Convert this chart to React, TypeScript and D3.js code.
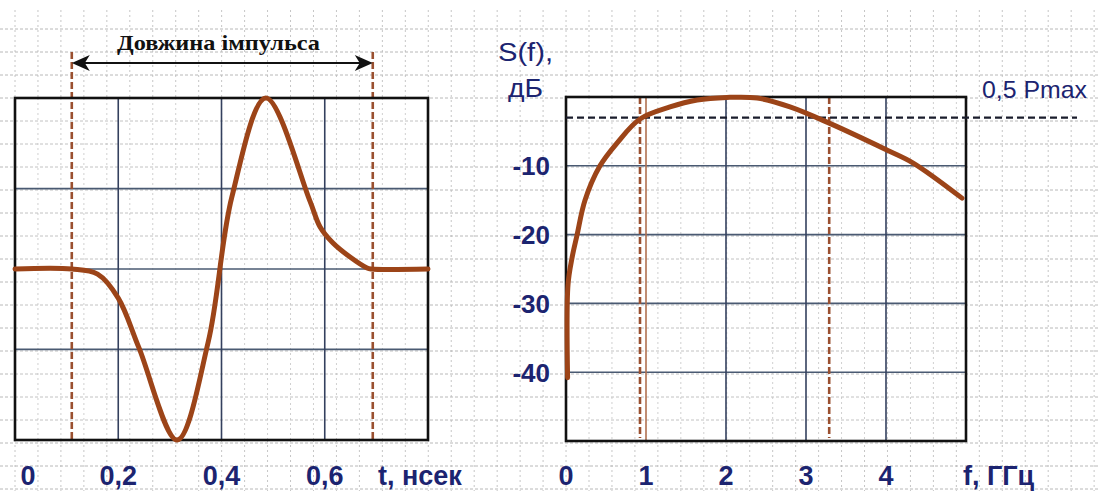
import React from "react";
import * as d3 from "d3";

// Impulse waveform: time (ns) vs normalised amplitude
const pulseT = [0, 0.11, 0.16, 0.2, 0.24, 0.314, 0.374, 0.42, 0.486, 0.571, 0.591, 0.616, 0.649, 0.682, 0.69, 0.8];
const pulseV = [0, 0, -0.03, -0.17, -0.46, -1, -0.43, 0.42, 1, 0.4, 0.246, 0.152, 0.07, 0.006, 0, 0];

// Spectrum: frequency (GHz) vs level (dB)
const specF = [0.02, 0.025, 0.075, 0.1375, 0.2375, 0.425, 0.6375, 0.925, 1.3, 1.64, 2.01, 2.39, 2.8, 3.29, 4.01, 4.34, 4.95];
const specDb = [-40.8, -27.3, -23.4, -20.1, -15.0, -10.0, -6.7, -3.2, -1.45, -0.44, -0.07, -0.15, -1.45, -3.8, -7.7, -9.6, -14.7];

const timeTicks = [0, 0.2, 0.4, 0.6];
const timeTickLabels = ["0", "0,2", "0,4", "0,6"];
const ampGrid = [0.47, 0, -0.47];
const pulseMarkers = [0.11, 0.693];

const freqTicks = [0, 1, 2, 3, 4];
const freqGrid = [2, 3, 4];
const dbTicks = [-10, -20, -30, -40];
const bandMarkers = [0.925, 3.29];
const halfPowerDb = -3;

const NAVY = "#1c2470";
const BROWN = "#9c4418";
const DASH_BROWN = "#9a5030";
const GRID = "#34405e";

export default function App() {
  const W = 1099;
  const H = 491;

  // left panel scales
  const xT = d3.scaleLinear().domain([0, 0.8]).range([15, 428]);
  const yA = d3.scaleLinear().domain([-1, 1]).range([440, 98]);
  // right panel scales
  const xF = d3.scaleLinear().domain([0, 5]).range([566, 966]);
  const yS = d3.scaleLinear().domain([-50, 0]).range([441, 97]);

  const pulsePath = d3
    .line<number>()
    .x((_, i) => xT(pulseT[i]))
    .y((v) => yA(v))
    .curve(d3.curveCatmullRom.alpha(0.5))(pulseV) as string;

  const specPath = d3
    .line<number>()
    .x((_, i) => xF(specF[i]))
    .y((v) => yS(v))
    .curve(d3.curveCatmullRom.alpha(0.5))(specDb) as string;

  // graph-paper background
  const paperX = d3.range(0, 48).map((k) => 15 + k * 22.96);
  const paperY = d3.range(0, 21).map((k) => 29 + k * 23);

  const arrowY = 63;
  const a0 = xT(pulseMarkers[0]);
  const a1 = xT(pulseMarkers[1]);

  const boldSans = "'Liberation Sans', Arial, sans-serif";

  return (
    <svg
      width={W}
      height={H}
      viewBox={`0 0 ${W} ${H}`}
      style={{ position: "absolute", left: 0, top: 0, background: "#fff" }}
    >
      <rect x={0} y={0} width={W} height={H} fill="#fff" />
      <g>
        {paperX.map((x, i) => (
          <line key={"px" + i} x1={x} x2={x} y1={10} y2={H} stroke="#c6c6c6" strokeWidth={1} strokeDasharray="2 3" />
        ))}
        {paperY.map((y, i) => (
          <line key={"py" + i} x1={0} x2={W} y1={y} y2={y} stroke="#b8b8b8" strokeWidth={1} strokeDasharray="3 2" />
        ))}
      </g>

      {/* ---------- impulse panel ---------- */}
      <rect x={xT(0)} y={yA(1)} width={xT(0.8) - xT(0)} height={yA(-1) - yA(1)} fill="#fff" />
      {paperX.filter((x) => x > xT(0) && x < xT(0.8)).map((x, i) => (
        <line key={"lpx" + i} x1={x} x2={x} y1={yA(1)} y2={yA(-1)} stroke="#d0d0d0" strokeWidth={1} strokeDasharray="2 3" />
      ))}
      {paperY.filter((y) => y > yA(1) && y < yA(-1)).map((y, i) => (
        <line key={"lpy" + i} x1={xT(0)} x2={xT(0.8)} y1={y} y2={y} stroke="#c2c2c2" strokeWidth={1} strokeDasharray="3 2" />
      ))}
      {ampGrid.map((v) => (
        <line key={"ag" + v} x1={xT(0)} x2={xT(0.8)} y1={yA(v)} y2={yA(v)} stroke="#4a5a72" strokeWidth={1.6} />
      ))}
      {timeTicks.slice(1).map((t) => (
        <line key={"tg" + t} x1={xT(t)} x2={xT(t)} y1={yA(1)} y2={yA(-1)} stroke={GRID} strokeWidth={1.6} />
      ))}
      {pulseMarkers.map((t) => (
        <line key={"pm" + t} x1={xT(t)} x2={xT(t)} y1={52} y2={yA(-1)} stroke={DASH_BROWN} strokeWidth={2.6} strokeDasharray="7 3" />
      ))}
      <rect x={xT(0)} y={yA(1)} width={xT(0.8) - xT(0)} height={yA(-1) - yA(1)} fill="none" stroke="#111" strokeWidth={2.6} />
      <path d={pulsePath} fill="none" stroke={BROWN} strokeWidth={5} strokeLinejoin="round" strokeLinecap="round" />

      {/* pulse-length arrow */}
      <line x1={a0 + 10} x2={a1 - 10} y1={arrowY} y2={arrowY} stroke="#111" strokeWidth={2} />
      <path d={`M${a0},${arrowY} L${a0 + 18},${arrowY - 8} L${a0 + 13},${arrowY} L${a0 + 18},${arrowY + 8} Z`} fill="#111" />
      <path d={`M${a1},${arrowY} L${a1 - 18},${arrowY - 8} L${a1 - 13},${arrowY} L${a1 - 18},${arrowY + 8} Z`} fill="#111" />
      <text
        x={218.5}
        y={50}
        textAnchor="middle"
        fontFamily="'Liberation Serif', 'Times New Roman', serif"
        fontWeight="bold"
        fontSize={21}
        fill="#111"
        textLength={203}
        lengthAdjust="spacingAndGlyphs"
      >
        Довжина імпульса
      </text>

      {timeTicks.map((t, i) => (
        <text key={"tl" + t} x={i === 0 ? 28 : xT(t)} y={485} textAnchor="middle" fontFamily={boldSans} fontWeight="bold" fontSize={27} fill={NAVY}>
          {timeTickLabels[i]}
        </text>
      ))}
      <text x={378} y={485} fontFamily={boldSans} fontWeight="bold" fontSize={27} fill={NAVY}>
        t, нсек
      </text>

      {/* ---------- spectrum panel ---------- */}
      <rect x={xF(0)} y={yS(0)} width={xF(5) - xF(0)} height={yS(-50) - yS(0)} fill="#fff" />
      {paperX.filter((x) => x > xF(0) + 2 && x < xF(5) - 2).map((x, i) => (
        <line key={"rpx" + i} x1={x} x2={x} y1={yS(0)} y2={yS(-50)} stroke="#d0d0d0" strokeWidth={1} strokeDasharray="2 3" />
      ))}
      {paperY.filter((y) => y > yS(0) + 2 && y < yS(-50) - 2).map((y, i) => (
        <line key={"rpy" + i} x1={xF(0)} x2={xF(5)} y1={y} y2={y} stroke="#c2c2c2" strokeWidth={1} strokeDasharray="3 2" />
      ))}
      {dbTicks.map((v) => (
        <line key={"dg" + v} x1={xF(0)} x2={xF(5)} y1={yS(v)} y2={yS(v)} stroke="#4a5a72" strokeWidth={1.6} />
      ))}
      {freqGrid.map((f) => (
        <line key={"fg" + f} x1={xF(f)} x2={xF(f)} y1={yS(0)} y2={yS(-50)} stroke={GRID} strokeWidth={1.6} />
      ))}
      <line x1={xF(1)} x2={xF(1)} y1={yS(0)} y2={yS(-50)} stroke="#b07050" strokeWidth={1.6} />
      {bandMarkers.map((f) => (
        <line key={"bm" + f} x1={xF(f)} x2={xF(f)} y1={yS(0)} y2={yS(-50) - 3} stroke={DASH_BROWN} strokeWidth={2.6} strokeDasharray="7 3" />
      ))}
      <rect x={xF(0)} y={yS(0)} width={xF(5) - xF(0)} height={yS(-50) - yS(0)} fill="none" stroke="#111" strokeWidth={2.6} />
      <line x1={xF(0)} x2={1077} y1={yS(halfPowerDb)} y2={yS(halfPowerDb)} stroke="#1a1d2c" strokeWidth={2.4} strokeDasharray="7 4" />
      <path d={specPath} fill="none" stroke={BROWN} strokeWidth={5} strokeLinejoin="round" strokeLinecap="round" />

      <text x={982} y={98} fontFamily={boldSans} fontSize={24} fill={NAVY} textLength={105} lengthAdjust="spacingAndGlyphs">
        0,5 Pmax
      </text>
      <text x={498} y={61} fontFamily={boldSans} fontSize={26} fill={NAVY} textLength={55} lengthAdjust="spacingAndGlyphs">
        S(f),
      </text>
      <text x={508} y={97} fontFamily={boldSans} fontSize={26} fill={NAVY} textLength={35} lengthAdjust="spacingAndGlyphs">
        дБ
      </text>
      {dbTicks.map((v) => (
        <text key={"dl" + v} x={550} y={yS(v)} dy="0.36em" textAnchor="end" fontFamily={boldSans} fontWeight="bold" fontSize={26} fill={NAVY}>
          {String(v)}
        </text>
      ))}
      {freqTicks.map((f) => (
        <text key={"fl" + f} x={xF(f)} y={485} textAnchor="middle" fontFamily={boldSans} fontWeight="bold" fontSize={27} fill={NAVY}>
          {String(f)}
        </text>
      ))}
      <text x={963} y={485} fontFamily={boldSans} fontWeight="bold" fontSize={27} fill={NAVY}>
        f, ГГц
      </text>
    </svg>
  );
}
